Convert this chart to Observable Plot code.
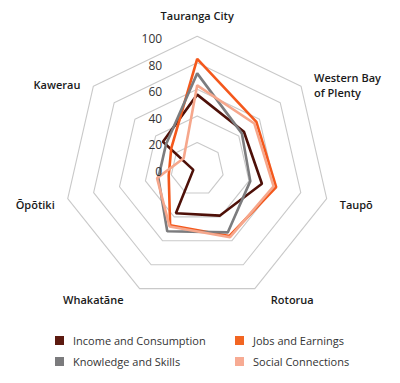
<!DOCTYPE html>
<html>
<head>
<meta charset="utf-8">
<script src="https://cdn.jsdelivr.net/npm/d3@7"></script>
<script src="https://cdn.jsdelivr.net/npm/@observablehq/plot@0.6"></script>
<style>
  html, body { margin: 0; padding: 0; background: #fff; }
  body { width: 400px; height: 383px; font-family: "Open Sans", "DejaVu Sans", sans-serif; }
  #chart svg { display: block; }
  #legend { display: grid; grid-template-columns: 180px 170px; margin-left: 55px; }
  .item { display: flex; align-items: center; height: 21px; font-size: 11px; color: #333; }
  .sw { width: 9px; height: 9px; margin-right: 9px; flex: none; }
</style>
</head>
<body>
<div id="chart"></div>
<div id="legend"></div>
<script>
// ---- data ----
const axes = ["Tauranga City", "Western Bay\nof Plenty", "Taupō", "Rotorua", "Whakatāne", "Ōpōtiki", "Kawerau"];
const seriesNames = ["Income and Consumption", "Jobs and Earnings", "Knowledge and Skills", "Social Connections"];
const income    = [56, 45, 50, 39, 37, 3, 33];
const jobs      = [83, 57, 61, 56, 47, 22, 25];
const knowledge = [72, 43, 41, 53, 52, 30, 30];
const social    = [63, 55, 59, 57, 48, 31, 13];
const tickValues = [0, 20, 40, 60, 80, 100];
const tickLabels = ["0", "20", "40", "60", "80", "100"];
const ringValues = [20, 40, 60, 80, 100];

// ---- style / layout ----
const colors = ["#4e1008", "#f4581c", "#7c7c7e", "#f6a78c"];
const legendColors = ["#5c1a10", "#f26522", "#7b7b7d", "#f7ab93"];
const W = 400, H = 330;
const cx = 196.7, cy = 168.5, K = 1.328; // px per unit

const n = axes.length;
const ang = i => i * 2 * Math.PI / n;
const px = (r, i) => r * Math.sin(ang(i));
const py = (r, i) => r * Math.cos(ang(i));

const ringData = ringValues.flatMap(r => axes.map((a, i) => ({r, i})));
const valueSets = [income, jobs, knowledge, social];
const seriesData = seriesNames.flatMap((s, k) => valueSets[k].map((v, i) => ({series: s, v, i})));
const tickData = tickValues.map((v, k) => ({v, label: tickLabels[k]}));

// label positions: outer vertex plus a pixel offset depending on direction
const labelData = axes.map((name, i) => {
  const s = Math.sin(ang(i)), c = Math.cos(ang(i));
  const anchor = s > 0.2 ? "start" : s < -0.2 ? "end" : "middle";
  const offx = anchor === "middle" ? 0 : Math.sign(s) * (Math.abs(c) > 0.7 ? 16 : 13);
  const offy = c > 0.7 ? -16 : c < -0.7 ? 11 : (c > 0 ? -1.5 : 6);
  return {name, anchor, x: px(100, i) + offx / K, y: py(100, i) - offy / K};
});

const textBase = {fontFamily: "Open Sans, DejaVu Sans, sans-serif"};

const chart = Plot.plot({
  width: W,
  height: H,
  margin: 0,
  style: {background: "#fff", fontFamily: "Open Sans, DejaVu Sans, sans-serif"},
  x: {domain: [-cx / K, (W - cx) / K], axis: null},
  y: {domain: [-(H - cy) / K, cy / K], axis: null},
  color: {domain: seriesNames, range: colors},
  marks: [
    Plot.line(ringData, {x: d => px(d.r, d.i), y: d => py(d.r, d.i), z: "r", curve: "linear-closed", stroke: "#c9c9c9", strokeWidth: 1.1}),
    Plot.line(seriesData, {x: d => px(d.v, d.i), y: d => py(d.v, d.i), z: "series", stroke: "series", curve: "linear-closed", strokeWidth: 2.6, strokeLinejoin: "miter"}),
    Plot.text(tickData, {x: 0, y: "v", text: "label", textAnchor: "end", dx: -35, dy: 3, fontSize: 12, fill: "#333", ...textBase}),
    ...["start", "middle", "end"].map(a =>
      Plot.text(labelData.filter(d => d.anchor === a), {x: "x", y: "y", text: "name", textAnchor: a, lineAnchor: a === "middle" ? "bottom" : "middle", lineHeight: 1.35, fontSize: 11, fontWeight: 600, fill: "#1a1a1a", ...textBase})
    )
  ]
});
document.getElementById("chart").appendChild(chart);

const legend = document.getElementById("legend");
seriesNames.forEach((name, k) => {
  const item = document.createElement("div");
  item.className = "item";
  item.innerHTML = `<span class="sw" style="background:${legendColors[k]}"></span><span>${name}</span>`;
  legend.appendChild(item);
});
</script>
</body>
</html>
